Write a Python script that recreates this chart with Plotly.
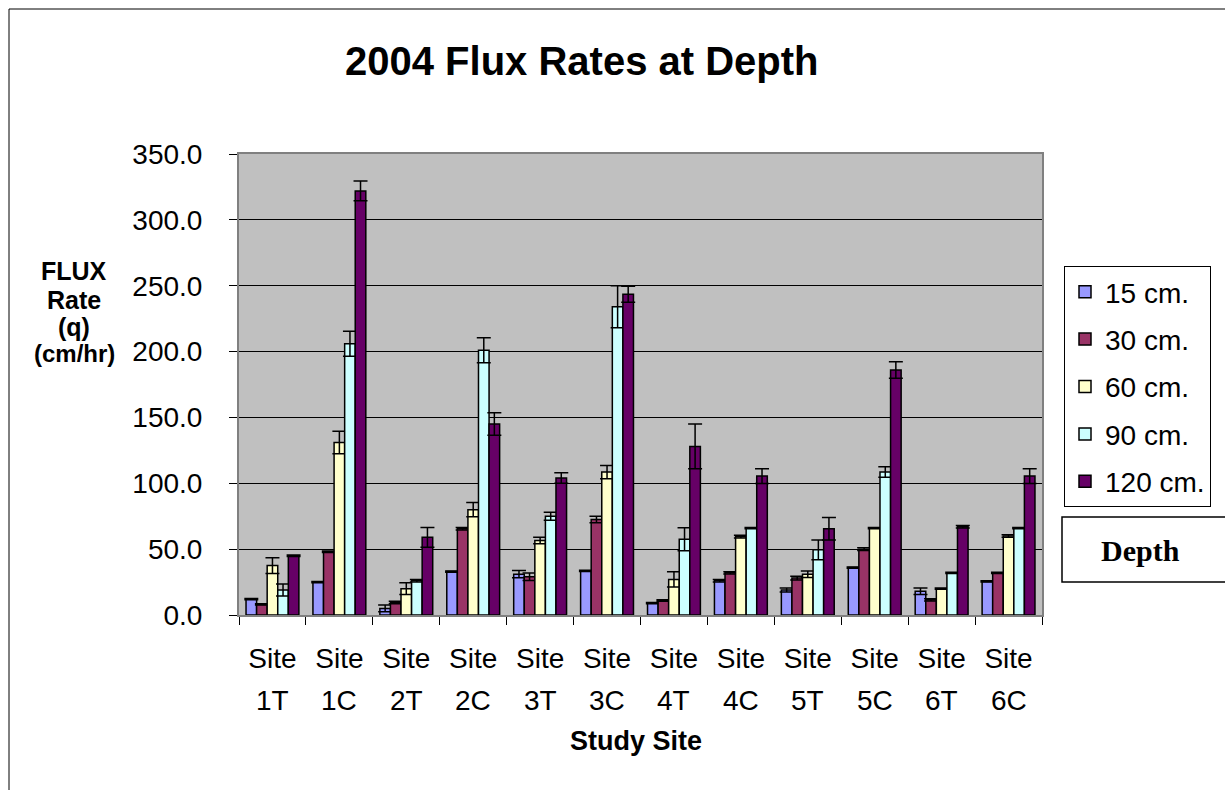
import plotly.graph_objects as go

site_codes = ["1T", "1C", "2T", "2C", "3T", "3C", "4T", "4C", "5T", "5C", "6T", "6C"]
site_word = "Site"
depths = ["15 cm.", "30 cm.", "60 cm.", "90 cm.", "120 cm."]

flux_15 = [12, 25, 5, 33, 31, 33.5, 9, 26, 19, 36, 18, 25.5]
flux_30 = [8, 48, 9.5, 65.5, 29, 72.5, 11, 32, 28, 50, 11.5, 32]
flux_60 = [37.5, 131, 20, 80, 56.5, 108.5, 27, 59.5, 31, 66, 20, 60]
flux_90 = [19, 206, 26, 201, 75, 234, 57.5, 66, 49.5, 108.5, 32, 66]
flux_120 = [45, 322, 59, 145, 104, 243.5, 128, 105.5, 65.5, 186, 67, 105.5]

err_15 = [0.5, 0.5, 2.5, 0.5, 2.8, 0.5, 0.5, 1, 1.5, 0.5, 2.5, 0.5]
err_30 = [0.5, 0.5, 1, 1, 2.8, 2.5, 0.5, 0.8, 1.5, 1, 0.8, 0.5]
err_60 = [6, 8.5, 4.5, 5.5, 2.5, 5, 5.8, 1, 2.5, 0.5, 0.5, 1]
err_90 = [4.5, 9.5, 1, 9.5, 3, 16, 8.8, 0.5, 7.5, 4, 0.5, 0.5]
err_120 = [0.5, 7.5, 7.5, 8.5, 4, 6, 17, 5.6, 8.5, 6.3, 1, 5.6]

colors = ["#9999FF", "#993366", "#FFFFCC", "#CCFFFF", "#660066"]
values = [flux_15, flux_30, flux_60, flux_90, flux_120]
errors = [err_15, err_30, err_60, err_90, err_120]

FONT = "Liberation Sans, Arial, sans-serif"
SERIF = "Liberation Serif, Times New Roman, serif"

fig = go.Figure()
for i, name in enumerate(depths):
    fig.add_trace(go.Bar(
        x=site_codes, y=values[i], name=name, legendgroup=name,
        marker=dict(color=colors[i], line=dict(color="black", width=1.5)),
        error_y=dict(type="data", array=errors[i], visible=True,
                     color="black", thickness=1.5, width=7),
    ))

# plot area in pixels
L, R, T, B = 239, 1042, 154, 615
W, H = 1225, 790


def px(x):
    return (x - L) / (R - L)


def py(y):
    return (B - y) / (B - T)


shapes = [
    # outer chart border (top and left visible)
    dict(type="line", xref="paper", yref="paper", x0=px(9), x1=px(1300), y0=py(9), y1=py(9),
         line=dict(color="black", width=1)),
    dict(type="line", xref="paper", yref="paper", x0=px(9), x1=px(9), y0=py(9), y1=py(900),
         line=dict(color="black", width=1)),
    # Depth box
    dict(type="rect", xref="paper", yref="paper", x0=px(1062), x1=px(1240), y0=py(517), y1=py(582),
         line=dict(color="black", width=1.5), fillcolor="white"),
]

annotations = [
    dict(text="<b>2004 Flux Rates at Depth</b>", xref="paper", yref="paper",
         x=px(582), y=py(61), showarrow=False, font=dict(family=FONT, size=40, color="black"),
         xanchor="center", yanchor="middle"),
    dict(text="<b>Study Site</b>", xref="paper", yref="paper", x=px(636), y=py(741),
         showarrow=False, font=dict(family=FONT, size=27, color="black"),
         xanchor="center", yanchor="middle"),
    dict(text="<b>Depth</b>", xref="paper", yref="paper", x=px(1140), y=py(550),
         showarrow=False, font=dict(family=SERIF, size=30, color="black"),
         xanchor="center", yanchor="middle"),
]

# y-axis title lines
ytitle_lines = [("FLUX", 25, 271), ("Rate", 25, 300), ("(q)", 25, 327), ("(cm/hr)", 24, 353)]
for txt, sz, yy in ytitle_lines:
    annotations.append(dict(text="<b>%s</b>" % txt, xref="paper", yref="paper",
                            x=px(74), y=py(yy), showarrow=False,
                            font=dict(family=FONT, size=sz, color="black"),
                            xanchor="center", yanchor="middle"))

# second line of the category labels
for code in site_codes:
    annotations.append(dict(text=code, xref="x", yref="paper", x=code, y=py(700),
                            showarrow=False, font=dict(family=FONT, size=28, color="black"),
                            xanchor="center", yanchor="middle"))

fig.update_layout(
    width=W, height=H,
    margin=dict(l=L, r=W - R, t=T, b=H - B, autoexpand=False),
    paper_bgcolor="white", plot_bgcolor="#C0C0C0",
    barmode="group", bargap=0.21, bargroupgap=0,
    font=dict(family=FONT, size=28, color="black"),
    showlegend=True,
    legend=dict(x=px(1064), y=py(266), xanchor="left", yanchor="top",
                bordercolor="black", borderwidth=1, bgcolor="white",
                font=dict(family=FONT, size=28), tracegroupgap=8,
                itemwidth=30, entrywidth=170, entrywidthmode="pixels"),
    shapes=shapes, annotations=annotations,
)

fig.update_xaxes(
    tickvals=site_codes, ticktext=[site_word] * len(site_codes),
    showgrid=False, showline=True, linecolor="#808080", linewidth=2, mirror=True,
    ticks="outside", tickson="boundaries", ticklen=8, tickcolor="black",
    tickfont=dict(family=FONT, size=28), ticklabelstandoff=17,
)
fig.update_yaxes(
    range=[0, 350], dtick=50, tickformat=".1f",
    showgrid=True, gridcolor="black", gridwidth=1,
    showline=True, linecolor="#808080", linewidth=2, mirror=True,
    ticks="outside", ticklen=8, tickcolor="black",
    tickfont=dict(family=FONT, size=28), zeroline=False, ticklabelstandoff=21,
)

fig.write_html("out.html", config={"displayModeBar": False},
               post_script="document.body.style.margin='0';")
